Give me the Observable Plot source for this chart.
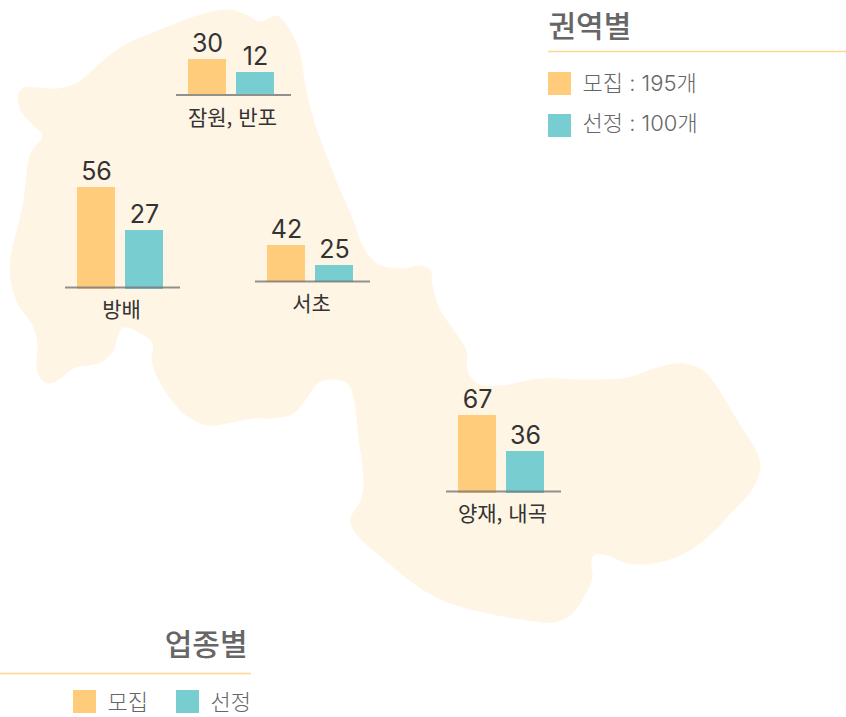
<!DOCTYPE html>
<html lang="ko">
<head>
<meta charset="utf-8">
<script src="https://cdn.jsdelivr.net/npm/d3@7"></script>
<script src="https://cdn.jsdelivr.net/npm/@observablehq/plot@0.6"></script>
<style>
html,body{margin:0;padding:0;background:#fff}
svg{display:block}
</style>
</head>
<body>
<div id="chart"></div>
<script>
const regions = ["잠원, 반포", "방배", "서초", "양재, 내곡"];
const recruit = [30, 56, 42, 67];
const selected = [12, 27, 25, 36];
// the published bars are not drawn to a common scale: drawn length
const recruitDrawn = [35, 102, 37, 78];
const selectedDrawn = [22, 59, 17, 42];
const regionLeft = [188, 77, 267, 458];
const barFoot = [94, 289, 282, 493];
const ruleAt = [94.5, 287, 281, 491];

const seriesNames = ["모집", "선정"];
const seriesTotals = [195, 100];
const panelTitles = ["권역별", "업종별"];

const outlineX = [227,245,260,275,283,295,300,305,315,330,340,353,363,377,400,420,430,432,440,455,466,467,477,500,540,590,627,657,683,703,717,737,757,760,753,733,707,680,653,627,607,593,591,592,583,570,553,527,487,447,420,393,353,350,360,363,358,353,347,333,317,307,293,273,253,227,207,190,177,160,151,152,140,123,117,113,100,73,60,50,40,36,37,32,17,10,10,17,23,25,30,42,33,20,17,23,37,57,77,100,123,157,197];
const outlineY = [9,14,21,15,20,40,55,85,125,165,190,220,247,263,268,265,270,285,310,332,350,370,383,385,378,379,377,367,363,370,387,420,453,467,487,510,537,555,563,563,555,555,563,577,597,615,622,620,613,602,588,567,530,518,500,483,437,397,383,379,383,397,413,418,418,423,425,418,407,383,360,343,333,327,337,350,362,368,378,383,378,367,343,325,303,280,257,227,200,183,153,135,125,110,95,87,87,88,82,62,45,30,15];

const outline = outlineX.map((x, i) => ({x, y: outlineY[i]}));

const barW = 38, barGap = 10;
const bars = regions.flatMap((r, i) => [
  {region: r, s: 0, value: recruit[i], x1: regionLeft[i], x2: regionLeft[i] + barW, foot: barFoot[i], top: barFoot[i] - recruitDrawn[i]},
  {region: r, s: 1, value: selected[i], x1: regionLeft[i] + barW + barGap, x2: regionLeft[i] + 2 * barW + barGap, foot: barFoot[i], top: barFoot[i] - selectedDrawn[i]}
]);
const groups = regions.map((r, i) => ({
  region: r,
  x1: regionLeft[i] - 12,
  x2: regionLeft[i] + 2 * barW + barGap + 17,
  cx: regionLeft[i] + barW + barGap / 2 + 1,
  y: ruleAt[i]
}));

const colors = ["#ffcc7c", "#77cdd0"];
const font = '"Inter","Noto Sans CJK KR",sans-serif';
const korean = '"Noto Sans CJK KR",sans-serif';

const legendA = seriesNames.map((n, i) => ({label: `${n} : ${seriesTotals[i]}개`, s: i, y: 83 + i * 42, ty: 83 + i * 40}));
const legendB = seriesNames.map((n, i) => ({label: n, s: i, x: 73 + i * 103}));

const plot = Plot.plot({
  width: 846, height: 717,
  margin: 0,
  x: {domain: [0, 846], range: [0, 846], axis: null},
  y: {domain: [0, 717], range: [0, 717], axis: null},
  style: {background: "#fff"},
  marks: [
    Plot.line(outline, {x: "x", y: "y", curve: "catmull-rom-closed", fill: "#fff5e5", stroke: "none"}),
    Plot.rect(bars, {x1: "x1", x2: "x2", y1: "top", y2: "foot", fill: d => colors[d.s]}),
    Plot.ruleY(groups, {y: "y", x1: "x1", x2: "x2", stroke: "#777", strokeOpacity: 0.8, strokeWidth: 2}),
    Plot.text(bars, {x: d => (d.x1 + d.x2) / 2, y: "top", text: d => String(d.value), dy: -8, lineAnchor: "bottom", fontFamily: font, fontSize: 25, fill: "#333"}),
    Plot.text(groups, {x: "cx", y: "y", text: "region", dy: 23, fontFamily: korean, fontSize: 21, fontWeight: 400, fill: "#333"}),
    // top-right panel
    Plot.text([panelTitles[0]], {x: () => 548, y: () => 27, text: d => d, textAnchor: "start", fontFamily: korean, fontSize: 30, fontWeight: 500, fill: "#666"}),
    Plot.ruleY([51], {x1: 548, x2: 846, stroke: "#ffd594", strokeWidth: 1.5}),
    Plot.rect(legendA, {x1: () => 548, x2: () => 571, y1: d => d.y - 11, y2: d => d.y + 12, fill: d => colors[d.s]}),
    Plot.text(legendA, {x: () => 582, y: "ty", text: "label", textAnchor: "start", fontFamily: font, fontSize: 22, fontWeight: 300, fill: "#666"}),
    // bottom-left panel
    Plot.text([panelTitles[1]], {x: () => 247, y: () => 645, text: d => d, textAnchor: "end", fontFamily: korean, fontSize: 30, fontWeight: 500, fill: "#666"}),
    Plot.ruleY([673], {x1: 0, x2: 251, stroke: "#ffd594", strokeWidth: 1.5}),
    Plot.rect(legendB, {x1: "x", x2: d => d.x + 23, y1: () => 690, y2: () => 713, fill: d => colors[d.s]}),
    Plot.text(legendB, {x: d => d.x + 34, y: () => 702, text: "label", textAnchor: "start", fontFamily: korean, fontSize: 22, fontWeight: 300, fill: "#666"})
  ]
});
document.getElementById("chart").append(plot);
</script>
</body>
</html>
